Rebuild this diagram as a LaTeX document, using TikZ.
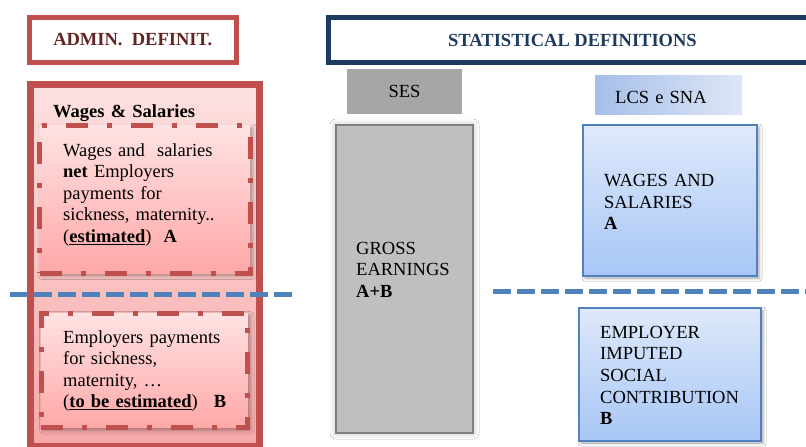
\documentclass[tikz,border=0pt]{standalone}
\usepackage{fontspec}
\setmainfont{Liberation Serif}
\usetikzlibrary{shadows.blur}

\definecolor{admred}{HTML}{C0504D}
\definecolor{admtext}{HTML}{632523}
\definecolor{statblue}{HTML}{1F3A5F}
\definecolor{sepblue}{HTML}{4F81BD}
\definecolor{pinktop}{HTML}{FFE2E2}
\definecolor{pinkbot}{HTML}{FFA8A8}
\definecolor{outertop}{HTML}{FDE0E0}
\definecolor{outerbot}{HTML}{F7A8A8}
\definecolor{sesgray}{HTML}{A6A6A6}
\definecolor{grossgray}{HTML}{BFBFBF}
\definecolor{grossedge}{HTML}{7F7F7F}
\definecolor{lcsleft}{HTML}{A6BEE8}
\definecolor{lcsright}{HTML}{DDE6F6}
\definecolor{bluetop}{HTML}{DEE9FB}
\definecolor{bluebot}{HTML}{A8C6F6}

\tikzset{
  box/.style={anchor=north west, inner sep=0pt, outer sep=0pt},
  basefont/.style={font=\fontsize{18.5}{21.6}\selectfont},
  boldfont/.style={font=\fontsize{18.5}{21.6}\selectfont\bfseries},
  txt/.style={basefont, anchor=base west, inner sep=0pt, text width=220pt, align=left},
  header/.style={box, draw, line width=5pt, fill=white, boldfont},
  dashbox/.style={box, draw=admred, line width=5pt,
    dash pattern=on 22pt off 19pt on 5pt off 19pt,
    top color=pinktop, bottom color=pinkbot,
    blur shadow={shadow xshift=2.5pt, shadow yshift=-2.5pt, shadow blur radius=4pt, shadow opacity=35}},
  bluebox/.style={box, draw=sepblue, line width=2pt,
    top color=bluetop, bottom color=bluebot,
    blur shadow={shadow xshift=2pt, shadow yshift=-2pt, shadow blur radius=3pt, shadow opacity=35}},
  sepline/.style={draw=sepblue, line width=5pt, dash pattern=on 18pt off 6pt}
}

\begin{document}
\begin{tikzpicture}[x=1pt, y=-1pt]
  \useasboundingbox (0,0) rectangle (806,447);
  \clip (0,0) rectangle (806,447);
  \fill[white] (0,0) rectangle (806,447);

  % column headers
  \node[header, draw=admred, text=admtext, minimum width=206.5pt, minimum height=44.5pt]
    (admin) at (29.5,17.5) {ADMIN.\ \ DEFINIT.};
  \node[header, draw=statblue, text=statblue, minimum width=489pt, minimum height=45pt]
    (stat) at (328,17.5) {STATISTICAL DEFINITIONS};

  % administrative column
  \node[box, draw=admred, line width=7pt, top color=outertop, bottom color=outerbot,
    minimum width=229.5pt, minimum height=362pt] (outer) at (30,84) {};
  \node[txt, boldfont] (wslabel) at (53,117) {Wages \& Salaries};

  \node[dashbox, minimum width=210.5pt, minimum height=147.5pt] (boxA) at (39.5,125.5) {};
  \node[txt] (textA) at (63,156) {Wages and\hspace{6pt} salaries\\
    \textbf{net} Employers\\
    payments for\\
    sickness, maternity..\\
    (\underline{\textbf{estimated}})\hspace{12pt}\textbf{A}};

  \node[dashbox, minimum width=206.5pt, minimum height=114.5pt] (boxB) at (41,313) {};
  \node[txt] (textB) at (63,343) {Employers payments\\
    for sickness,\\
    maternity, …\\
    (\underline{\textbf{to be estimated}})\hspace{16pt}\textbf{B}};

  % SES column
  \node[box, fill=sesgray, basefont, minimum width=115pt, minimum height=45pt]
    (ses) at (347,69) {SES};
  \node[box, fill=grossgray, draw=grossedge, line width=1.5pt,
    minimum width=137pt, minimum height=308pt,
    blur shadow={shadow xshift=0pt, shadow yshift=0pt, shadow blur radius=6pt, shadow opacity=30}]
    (gross) at (336,125) {};
  \node[txt] (grosstext) at (356,254) {GROSS\\ EARNINGS\\ \textbf{A+B}};

  % LCS / SNA column
  \node[box, left color=lcsleft, right color=lcsright, minimum width=147pt, minimum height=39pt]
    (lcs) at (595,75) {};
  \node[txt] (lcstext) at (615,103) {LCS e SNA};

  \node[bluebox, minimum width=174pt, minimum height=151pt] (wsbox) at (583,125) {};
  \node[txt] (wstext) at (604,186.5) {WAGES AND\\ SALARIES\\ \textbf{A}};

  \node[bluebox, minimum width=182pt, minimum height=133pt] (empbox) at (579,308) {};
  \node[txt] (emptext) at (600,338.3) {EMPLOYER\\ IMPUTED\\ SOCIAL\\ CONTRIBUTION\\ \textbf{B}};

  % A / B separators
  \coordinate (sepLa) at (10,294.5);
  \coordinate (sepLb) at (296,294.5);
  \coordinate (sepRa) at (493,291.5);
  \coordinate (sepRb) at (806,291.5);
  \draw[sepline] (sepLa) -- (sepLb);
  \draw[sepline] (sepRa) -- (sepRb);
\end{tikzpicture}
\end{document}
